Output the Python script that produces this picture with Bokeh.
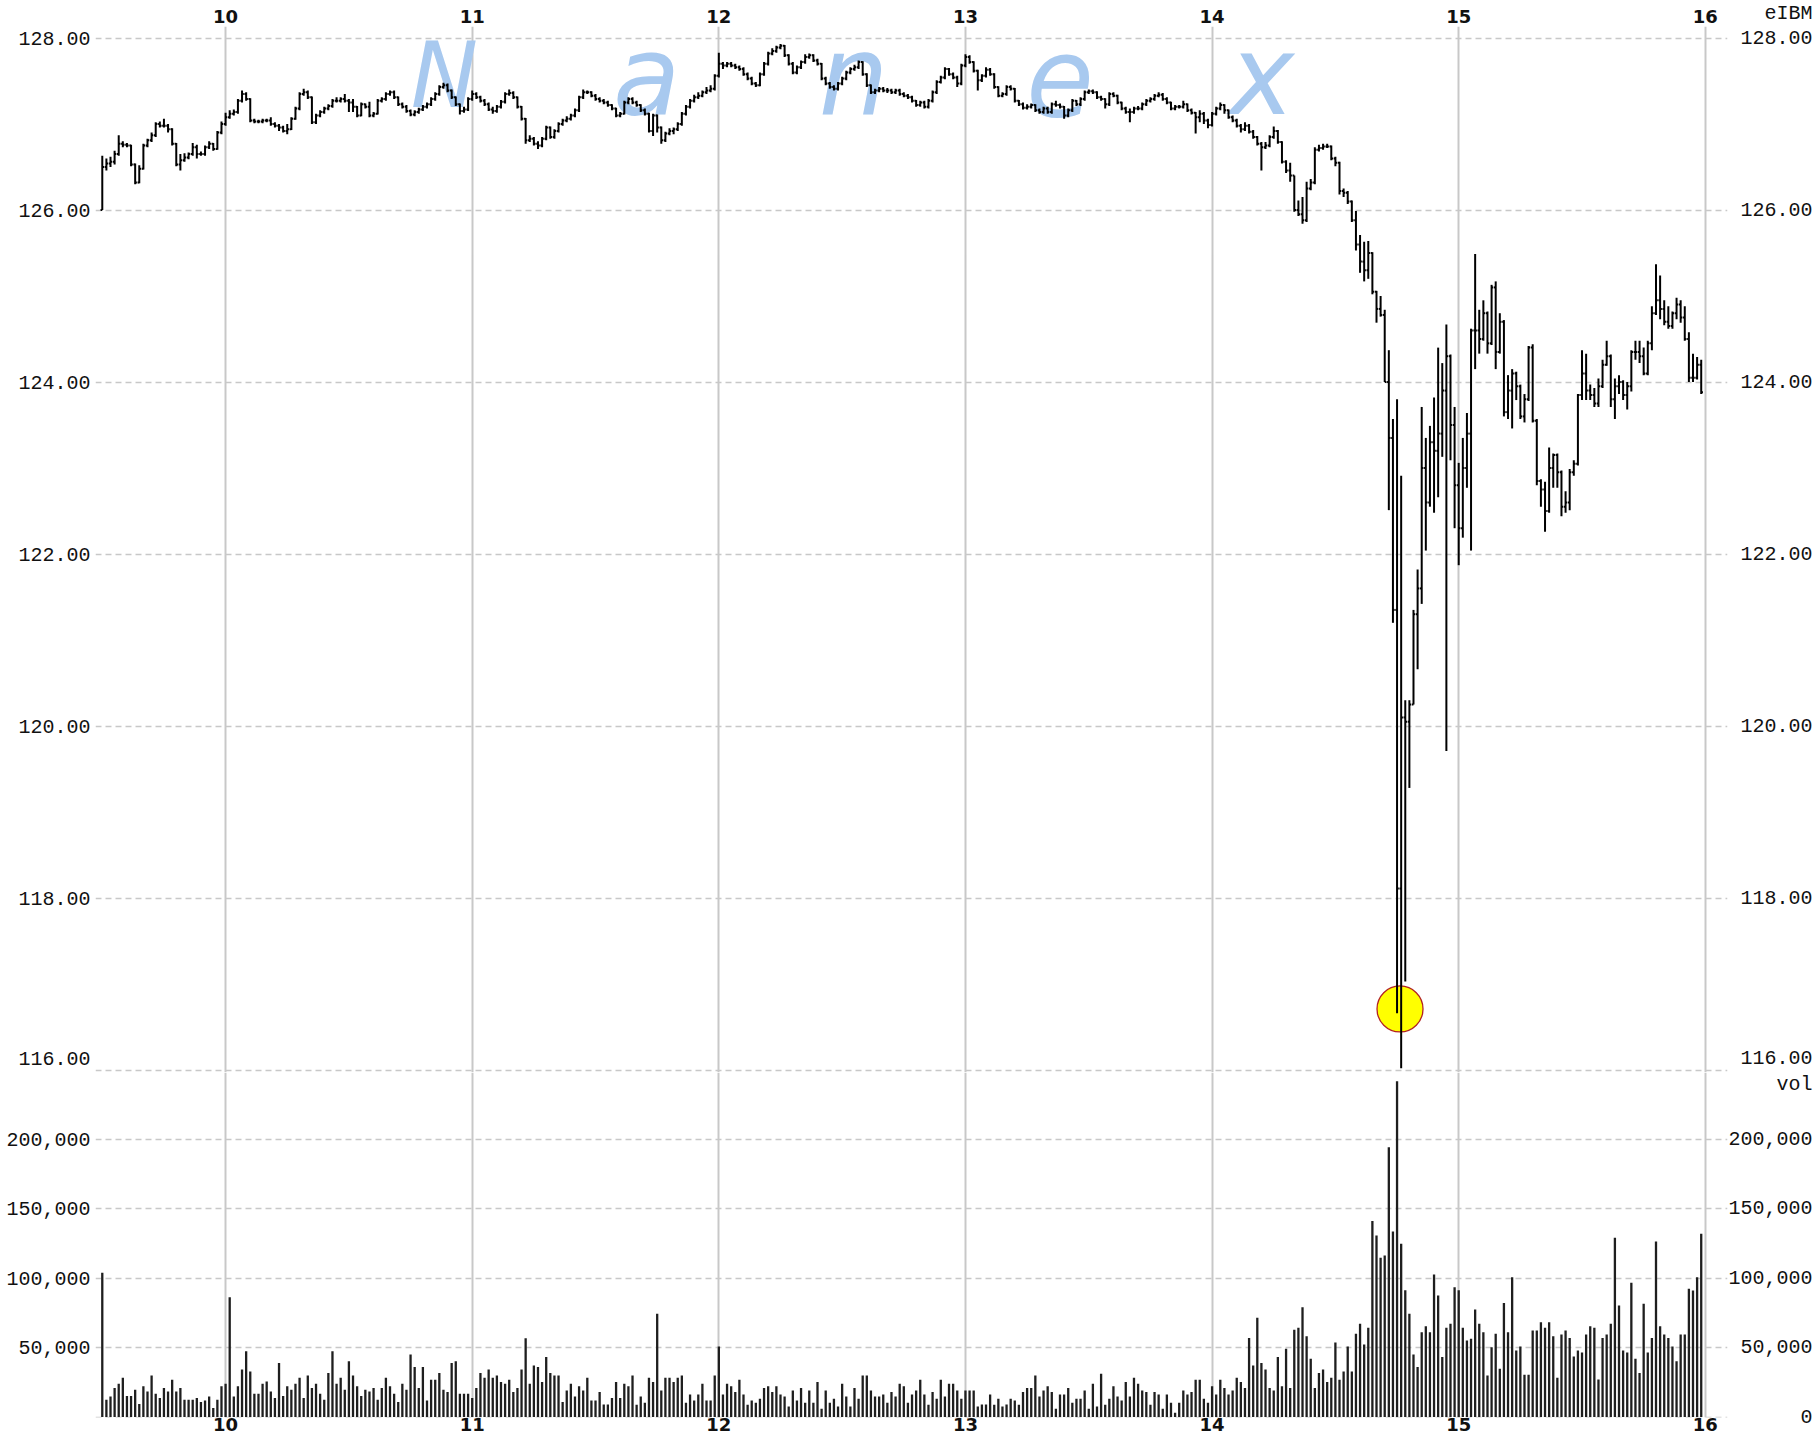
from bokeh.plotting import figure
from bokeh.layouts import column
from bokeh.models import (Range1d, FixedTicker, LinearAxis,
                          NumeralTickFormatter, PrintfTickFormatter, ColumnDataSource)
from bokeh.embed import file_html
from bokeh.resources import INLINE
from bokeh.core.properties import value

# ---------------- data (1-minute bars, 9:30 .. 15:59) ----------------
session_start = 9.5          # hours
first_open = 126.00
symbol = "eIBM"
vol_title = "vol"
hour_ticks = [10, 11, 12, 13, 14, 15, 16]
price_ticks = [116, 118, 120, 122, 124, 126, 128]
vol_ticks = [0, 50000, 100000, 150000, 200000]
marker_time = 14.762
marker_price = 116.71
watermark = ["N", "a", "n", "e", "x"]

close = [
    126.50, 126.54, 126.56, 126.65, 126.77, 126.76, 126.75, 126.53, 126.32, 126.48,
    126.75, 126.81, 126.87, 127.00, 126.98, 126.98, 126.94, 126.77, 126.53, 126.58,
    126.61, 126.65, 126.73, 126.65, 126.65, 126.73, 126.77, 126.71, 126.90, 127.00,
    127.08, 127.12, 127.14, 127.27, 127.35, 127.29, 127.04, 127.03, 127.03, 127.04,
    127.04, 127.00, 126.98, 126.96, 126.92, 126.94, 127.06, 127.18, 127.35, 127.37,
    127.31, 127.02, 127.10, 127.14, 127.18, 127.21, 127.27, 127.27, 127.29, 127.27,
    127.25, 127.20, 127.10, 127.23, 127.20, 127.10, 127.12, 127.27, 127.29, 127.35,
    127.37, 127.31, 127.23, 127.20, 127.15, 127.11, 127.14, 127.17, 127.20, 127.23,
    127.29, 127.35, 127.43, 127.45, 127.39, 127.31, 127.23, 127.15, 127.17, 127.29,
    127.35, 127.31, 127.27, 127.23, 127.17, 127.15, 127.20, 127.26, 127.35, 127.36,
    127.31, 127.20, 127.06, 126.81, 126.83, 126.77, 126.75, 126.83, 126.96, 126.85,
    126.92, 127.00, 127.04, 127.06, 127.10, 127.16, 127.31, 127.37, 127.37, 127.33,
    127.29, 127.27, 127.25, 127.22, 127.18, 127.10, 127.12, 127.25, 127.29, 127.25,
    127.22, 127.16, 127.12, 126.92, 127.10, 126.96, 126.81, 126.89, 126.92, 126.94,
    127.00, 127.12, 127.20, 127.27, 127.31, 127.33, 127.37, 127.39, 127.41, 127.56,
    127.70, 127.68, 127.70, 127.68, 127.66, 127.64, 127.58, 127.53, 127.47, 127.45,
    127.58, 127.70, 127.82, 127.85, 127.89, 127.91, 127.80, 127.70, 127.60, 127.66,
    127.72, 127.78, 127.80, 127.74, 127.70, 127.53, 127.47, 127.43, 127.41, 127.47,
    127.53, 127.60, 127.64, 127.66, 127.72, 127.58, 127.45, 127.37, 127.39, 127.41,
    127.39, 127.39, 127.37, 127.39, 127.35, 127.33, 127.31, 127.27, 127.22, 127.25,
    127.20, 127.27, 127.37, 127.49, 127.54, 127.64, 127.58, 127.54, 127.47, 127.68,
    127.78, 127.72, 127.62, 127.51, 127.56, 127.63, 127.58, 127.43, 127.33, 127.35,
    127.43, 127.41, 127.27, 127.23, 127.19, 127.20, 127.22, 127.16, 127.14, 127.18,
    127.14, 127.23, 127.22, 127.20, 127.10, 127.16, 127.27, 127.23, 127.29, 127.37,
    127.38, 127.37, 127.31, 127.29, 127.23, 127.35, 127.33, 127.25, 127.18, 127.14,
    127.14, 127.18, 127.18, 127.23, 127.27, 127.29, 127.33, 127.34, 127.29, 127.25,
    127.18, 127.20, 127.20, 127.23, 127.16, 127.13, 127.08, 127.12, 127.04, 126.99,
    127.12, 127.18, 127.22, 127.16, 127.08, 127.04, 126.98, 126.94, 126.98, 126.91,
    126.85, 126.77, 126.73, 126.75, 126.85, 126.92, 126.79, 126.56, 126.46, 126.40,
    126.00, 125.95, 125.88, 126.25, 126.32, 126.70, 126.72, 126.74, 126.74, 126.60,
    126.55, 126.22, 126.20, 126.10, 125.88, 125.60, 125.40, 125.30, 125.50, 125.05,
    124.85, 124.78, 124.00, 123.35, 121.35, 118.11, 120.10, 120.05, 120.25, 121.30,
    121.60, 123.00, 122.60, 123.30, 123.20, 123.40, 123.90, 124.30, 123.50, 122.80,
    122.30, 123.00, 123.40, 124.60, 124.60, 124.50, 124.80, 124.45, 125.10, 124.35,
    124.70, 123.65, 123.90, 124.10, 123.95, 123.60, 123.80, 124.40, 123.55, 122.85,
    122.75, 122.50, 123.00, 123.15, 122.95, 122.55, 122.60, 122.95, 123.05, 123.85,
    124.10, 123.90, 123.85, 123.75, 123.95, 124.20, 124.30, 123.80, 123.95, 124.00,
    123.85, 123.95, 124.35, 124.35, 124.30, 124.10, 124.45, 124.80, 124.95, 124.85,
    124.70, 124.65, 124.80, 124.90, 124.75, 124.50, 124.05, 124.05, 124.20, 123.88,
]

high = [
    126.63, 126.60, 126.62, 126.69, 126.87, 126.80, 126.78, 126.76, 126.54, 126.52,
    126.77, 126.83, 126.90, 127.02, 127.03, 127.06, 127.00, 126.95, 126.78, 126.65,
    126.66, 126.67, 126.78, 126.76, 126.68, 126.75, 126.80, 126.78, 126.92, 127.03,
    127.13, 127.16, 127.17, 127.29, 127.39, 127.37, 127.30, 127.06, 127.05, 127.06,
    127.06, 127.08, 127.02, 127.00, 126.98, 127.00, 127.08, 127.20, 127.37, 127.41,
    127.39, 127.32, 127.12, 127.16, 127.20, 127.23, 127.29, 127.31, 127.31, 127.35,
    127.29, 127.29, 127.21, 127.25, 127.24, 127.26, 127.14, 127.29, 127.31, 127.37,
    127.39, 127.39, 127.32, 127.25, 127.22, 127.17, 127.16, 127.19, 127.22, 127.25,
    127.31, 127.37, 127.45, 127.48, 127.47, 127.40, 127.32, 127.24, 127.20, 127.31,
    127.39, 127.37, 127.33, 127.29, 127.25, 127.20, 127.22, 127.28, 127.37, 127.40,
    127.38, 127.32, 127.21, 127.07, 126.87, 126.85, 126.80, 126.85, 126.98, 126.97,
    126.94, 127.02, 127.06, 127.09, 127.12, 127.18, 127.33, 127.40, 127.39, 127.38,
    127.35, 127.31, 127.29, 127.27, 127.23, 127.19, 127.14, 127.27, 127.31, 127.31,
    127.27, 127.23, 127.18, 127.13, 127.12, 127.11, 126.97, 126.91, 126.95, 126.96,
    127.02, 127.14, 127.22, 127.29, 127.34, 127.37, 127.39, 127.43, 127.45, 127.58,
    127.83, 127.72, 127.72, 127.72, 127.70, 127.68, 127.66, 127.60, 127.55, 127.49,
    127.60, 127.72, 127.84, 127.88, 127.91, 127.93, 127.92, 127.81, 127.72, 127.68,
    127.74, 127.81, 127.82, 127.81, 127.76, 127.71, 127.55, 127.49, 127.45, 127.49,
    127.55, 127.62, 127.66, 127.69, 127.74, 127.73, 127.59, 127.46, 127.41, 127.43,
    127.43, 127.42, 127.41, 127.41, 127.41, 127.37, 127.35, 127.33, 127.28, 127.27,
    127.27, 127.29, 127.39, 127.51, 127.56, 127.66, 127.65, 127.60, 127.56, 127.70,
    127.81, 127.80, 127.73, 127.63, 127.58, 127.66, 127.65, 127.59, 127.44, 127.37,
    127.45, 127.45, 127.42, 127.28, 127.25, 127.23, 127.24, 127.23, 127.18, 127.20,
    127.20, 127.25, 127.27, 127.24, 127.21, 127.18, 127.29, 127.28, 127.31, 127.39,
    127.40, 127.40, 127.38, 127.33, 127.30, 127.37, 127.37, 127.34, 127.26, 127.20,
    127.18, 127.20, 127.21, 127.25, 127.29, 127.31, 127.35, 127.37, 127.36, 127.31,
    127.26, 127.22, 127.22, 127.27, 127.24, 127.18, 127.14, 127.16, 127.14, 127.06,
    127.14, 127.20, 127.25, 127.23, 127.17, 127.10, 127.06, 127.00, 127.02, 127.00,
    126.93, 126.86, 126.79, 126.79, 126.87, 126.97, 126.93, 126.80, 126.58, 126.55,
    126.40, 126.11, 126.15, 126.33, 126.36, 126.73, 126.76, 126.77, 126.77, 126.75,
    126.62, 126.56, 126.25, 126.22, 126.11, 125.99, 125.71, 125.63, 125.64, 125.51,
    125.06, 125.00, 124.84, 124.37, 123.57, 123.80, 122.91, 120.30, 120.30, 121.35,
    121.82, 123.71, 123.35, 123.49, 123.82, 124.40, 124.22, 124.67, 124.32, 123.71,
    123.06, 123.35, 123.64, 124.62, 125.49, 124.84, 124.95, 124.82, 125.13, 125.17,
    124.80, 124.72, 124.08, 124.15, 124.12, 123.97, 123.86, 124.42, 124.44, 123.57,
    122.87, 122.84, 123.24, 123.17, 123.17, 122.97, 122.73, 122.99, 123.09, 123.86,
    124.37, 124.33, 123.97, 123.93, 124.04, 124.26, 124.48, 124.32, 124.04, 124.08,
    124.02, 124.00, 124.37, 124.48, 124.48, 124.40, 124.48, 124.88, 125.37, 125.24,
    124.95, 124.88, 124.82, 124.98, 124.95, 124.88, 124.58, 124.33, 124.29, 124.26,
]

low = [
    126.00, 126.46, 126.50, 126.53, 126.63, 126.73, 126.73, 126.51, 126.30, 126.31,
    126.47, 126.73, 126.79, 126.85, 126.96, 126.96, 126.90, 126.75, 126.51, 126.46,
    126.56, 126.59, 126.63, 126.60, 126.63, 126.63, 126.71, 126.69, 126.70, 126.88,
    126.98, 127.06, 127.10, 127.12, 127.25, 127.27, 127.02, 127.01, 127.01, 127.01,
    127.02, 126.98, 126.96, 126.92, 126.90, 126.88, 126.93, 127.05, 127.16, 127.33,
    127.29, 127.00, 127.00, 127.08, 127.12, 127.16, 127.19, 127.25, 127.25, 127.25,
    127.14, 127.14, 127.08, 127.09, 127.18, 127.08, 127.08, 127.11, 127.25, 127.27,
    127.33, 127.29, 127.21, 127.18, 127.13, 127.09, 127.09, 127.12, 127.15, 127.18,
    127.21, 127.27, 127.33, 127.41, 127.37, 127.29, 127.21, 127.11, 127.13, 127.15,
    127.27, 127.29, 127.25, 127.21, 127.15, 127.12, 127.13, 127.18, 127.24, 127.33,
    127.29, 127.18, 127.04, 126.77, 126.79, 126.75, 126.71, 126.73, 126.81, 126.83,
    126.83, 126.90, 126.98, 127.02, 127.04, 127.08, 127.14, 127.29, 127.35, 127.31,
    127.27, 127.25, 127.23, 127.20, 127.16, 127.08, 127.08, 127.11, 127.23, 127.23,
    127.20, 127.14, 127.10, 126.90, 126.86, 126.90, 126.77, 126.79, 126.87, 126.88,
    126.92, 126.98, 127.10, 127.18, 127.25, 127.29, 127.31, 127.35, 127.37, 127.39,
    127.54, 127.64, 127.66, 127.66, 127.64, 127.62, 127.56, 127.51, 127.45, 127.43,
    127.44, 127.56, 127.68, 127.80, 127.83, 127.87, 127.78, 127.68, 127.58, 127.58,
    127.64, 127.70, 127.76, 127.72, 127.68, 127.51, 127.45, 127.41, 127.39, 127.39,
    127.45, 127.51, 127.58, 127.62, 127.64, 127.56, 127.43, 127.35, 127.35, 127.37,
    127.37, 127.36, 127.35, 127.35, 127.33, 127.31, 127.29, 127.25, 127.20, 127.20,
    127.18, 127.18, 127.25, 127.35, 127.47, 127.52, 127.56, 127.52, 127.43, 127.45,
    127.66, 127.70, 127.60, 127.39, 127.49, 127.54, 127.56, 127.41, 127.31, 127.31,
    127.33, 127.39, 127.25, 127.21, 127.17, 127.17, 127.18, 127.14, 127.12, 127.12,
    127.12, 127.12, 127.20, 127.18, 127.06, 127.08, 127.14, 127.21, 127.21, 127.27,
    127.35, 127.35, 127.29, 127.27, 127.18, 127.21, 127.31, 127.23, 127.16, 127.12,
    127.02, 127.12, 127.16, 127.16, 127.21, 127.25, 127.27, 127.31, 127.27, 127.23,
    127.16, 127.16, 127.18, 127.18, 127.14, 127.11, 126.89, 127.02, 127.00, 126.95,
    126.97, 127.10, 127.16, 127.12, 127.06, 127.02, 126.96, 126.90, 126.92, 126.89,
    126.83, 126.75, 126.46, 126.71, 126.73, 126.83, 126.77, 126.54, 126.43, 126.33,
    125.98, 125.93, 125.84, 125.86, 126.23, 126.30, 126.68, 126.70, 126.72, 126.58,
    126.51, 126.18, 126.15, 126.07, 125.86, 125.53, 125.27, 125.17, 125.20, 125.02,
    124.69, 124.76, 124.00, 122.51, 121.20, 116.66, 116.02, 117.03, 119.28, 120.25,
    120.66, 121.42, 122.04, 122.55, 122.48, 122.66, 123.13, 119.71, 123.09, 122.30,
    121.87, 122.19, 122.77, 122.04, 124.15, 124.33, 124.48, 124.33, 124.43, 124.15,
    124.33, 123.60, 123.57, 123.46, 123.79, 123.57, 123.53, 123.78, 123.53, 122.80,
    122.55, 122.26, 122.48, 122.77, 122.77, 122.44, 122.48, 122.51, 122.91, 123.03,
    123.79, 123.79, 123.79, 123.71, 123.71, 123.93, 124.19, 123.71, 123.57, 123.86,
    123.79, 123.68, 123.89, 124.26, 124.22, 124.08, 124.08, 124.37, 124.78, 124.73,
    124.66, 124.62, 124.62, 124.73, 124.69, 124.48, 124.00, 124.00, 124.03, 123.86,
]

volume = [
    104000, 12500, 14900, 20900, 24000, 28300, 15100, 15100, 19700, 9400,
    22300, 18500, 30000, 16800, 13700, 20900, 18500, 26900, 18500, 20900,
    12500, 12500, 12500, 13700, 10800, 12000, 14900, 6500, 12500, 22300,
    24000, 86400, 14900, 22300, 34300, 47500, 32900, 16800, 16800, 24000,
    25700, 18500, 13700, 38900, 15100, 22300, 19700, 24000, 28300, 13700,
    30000, 20900, 24000, 16800, 12500, 31700, 47500, 24000, 28300, 19700,
    40300, 30000, 22300, 15100, 19700, 18500, 20900, 12500, 20900, 28300,
    22300, 16800, 10800, 24000, 19700, 45000, 36000, 20900, 36000, 12000,
    26900, 26900, 31700, 19700, 18000, 38900, 40300, 16800, 16800, 16800,
    13700, 20900, 31700, 28300, 34300, 28300, 30000, 25200, 24000, 26900,
    18000, 20900, 34300, 56800, 24000, 37200, 36000, 25200, 43200, 31700,
    30000, 30000, 10800, 19200, 24000, 14900, 22300, 19200, 28300, 12000,
    12000, 18000, 9100, 9100, 13700, 25200, 13700, 24000, 22300, 30000,
    8900, 14900, 10300, 28300, 25200, 74400, 19200, 28300, 28300, 25200,
    28300, 30000, 10300, 16300, 12000, 16300, 24000, 12000, 12000, 30000,
    50900, 16300, 24000, 22300, 18000, 26900, 16300, 8900, 12000, 10300,
    13200, 20900, 22300, 18000, 22300, 16300, 14900, 7700, 19200, 12000,
    20900, 10300, 19200, 10300, 25200, 6000, 19200, 10300, 13200, 7700,
    24000, 14900, 7700, 20900, 13200, 30000, 30000, 19200, 14900, 14900,
    16300, 10300, 18000, 14900, 24000, 22300, 10300, 16300, 19200, 26900,
    16300, 8900, 18000, 13200, 26900, 14900, 24000, 24000, 19200, 13200,
    19200, 19200, 19200, 7700, 9100, 9100, 16300, 8900, 13200, 7700,
    9100, 13200, 12000, 8900, 18000, 20900, 20900, 30000, 14900, 19200,
    22300, 18000, 6000, 16300, 16300, 20900, 10300, 13200, 13200, 19200,
    6000, 24000, 7700, 31200, 8900, 13200, 22300, 14900, 12000, 25200,
    14900, 28300, 24000, 19200, 18000, 8900, 18000, 16300, 6000, 16300,
    10300, 3100, 10300, 19200, 16300, 18000, 26900, 26900, 13200, 10300,
    22300, 16300, 26900, 20900, 16300, 19200, 28300, 25200, 20900, 56900,
    37200, 71500, 38900, 34300, 20900, 19200, 43200, 22300, 49200, 20900,
    62900, 64300, 79200, 58300, 42000, 20900, 31700, 34300, 25200, 28300,
    53800, 26900, 32900, 50900, 32900, 60000, 67200, 52300, 64300, 141200,
    130900, 114800, 116400, 194400, 133700, 242000, 124900, 91300, 74500, 45000,
    36000, 61200, 65500, 61200, 102800, 87600, 43200, 64300, 67200, 93600,
    91300, 64300, 55200, 56400, 77500, 67200, 61200, 30000, 50400, 60000,
    34800, 82100, 61200, 100800, 48000, 50900, 30500, 30500, 62400, 62400,
    68400, 64300, 68400, 58300, 28300, 59500, 62400, 56900, 43700, 48000,
    46600, 59500, 65500, 64300, 27100, 56900, 59500, 67200, 129200, 80400,
    48000, 46600, 96700, 42000, 31700, 81600, 46600, 56900, 126500, 65500,
    59500, 56900, 50900, 40300, 59500, 59500, 92400, 91200, 100800, 132000,
]

# ---------------- derived columns ----------------
n = len(close)
t = [session_start + i / 60.0 for i in range(n)]
opens = [first_open] + close[:-1]
TICK = 0.0070  # half-width of open/close ticks, in hours
src = ColumnDataSource(dict(
    t=t, tl=[x - TICK for x in t], tr=[x + TICK for x in t],
    o=opens, h=high, l=low, c=close, v=volume))

NB = "\u00a0"
MONO = "Liberation Mono"
LBL = "20px"
HOURF = "DejaVu Sans"
HOURS = "18px"
GRID = "#c8c8c8"
INK = "#111111"
W = 1815
LB, RB = 95, 85
XR = Range1d(9.4725, 16.0899)
PR = Range1d(115.971, 128.134)
VR = Range1d(-300, 248250)


def style_axis(ax, font, size, standoff, bold=False):
    ax.axis_line_color = None
    ax.major_tick_line_color = None
    ax.minor_tick_line_color = None
    ax.major_tick_out = 0
    ax.major_tick_in = 0
    ax.minor_tick_out = 0
    ax.minor_tick_in = 0
    ax.major_label_standoff = standoff
    ax.major_label_text_font = font
    ax.major_label_text_font_size = size
    ax.major_label_text_color = INK
    if bold:
        ax.major_label_text_font_style = "bold"


def pad(s):
    return s.rjust(7, NB)


# ---------------- price panel ----------------
pf = figure(width=W, height=1072, x_range=XR, y_range=PR,
            x_axis_location="above", output_backend="svg", toolbar_location=None,
            min_border_left=LB, min_border_right=RB, min_border_top=26,
            min_border_bottom=0, outline_line_color=None)

pf.xaxis.ticker = FixedTicker(ticks=hour_ticks)
for ax in pf.xaxis:
    style_axis(ax, HOURF, HOURS, 4, bold=True)

# the lowest price label sits just above its grid line (bottom edge of the panel)
pmin = min(price_ticks)
pmin_at = pmin + 0.13
label_ticks = [pmin_at] + [v for v in price_ticks if v != pmin]
ptop = 128.13  # just inside the top edge: carries the symbol name

left_over = {v: "%.2f" % v for v in label_ticks}
left_over[pmin_at] = "%.2f" % pmin
pf.yaxis.ticker = FixedTicker(ticks=label_ticks)
pf.yaxis.formatter = PrintfTickFormatter(format="%.2f")
pf.yaxis.major_label_overrides = left_over
for ax in pf.yaxis:
    style_axis(ax, MONO, LBL, 5)

right_over = {v: pad("%.2f" % v) for v in label_ticks}
right_over[pmin_at] = pad("%.2f" % pmin)
right_over[ptop] = pad(symbol) + "\n" + NB
rax = LinearAxis(ticker=FixedTicker(ticks=label_ticks + [ptop]),
                 major_label_overrides=right_over)
style_axis(rax, MONO, LBL, 1)
pf.add_layout(rax, "right")

pf.xgrid.ticker = FixedTicker(ticks=hour_ticks)
pf.xgrid.grid_line_color = GRID
pf.xgrid.grid_line_width = 2
pf.ygrid.ticker = FixedTicker(ticks=price_ticks)
pf.ygrid.grid_line_color = GRID
pf.ygrid.grid_line_width = 1.5
pf.ygrid.grid_line_dash = "6 4"

# watermark
wm_x = [10.887, 11.708, 12.546, 13.384, 14.202]
pf.text(x=wm_x, y=[127.56] * len(watermark), text=watermark,
        text_font=value("DejaVu Sans"), text_font_style="italic",
        text_font_size=["90px", "110px", "110px", "110px", "110px"],
        text_color="#a8c9ef", text_align="center", text_baseline="alphabetic")

# marker
pf.scatter(x=[marker_time], y=[marker_price], size=46, marker="circle",
           fill_color="#ffff00", line_color="#b22222", line_width=1.3)

# OHLC bars
pf.segment(x0="t", y0="l", x1="t", y1="h", source=src, line_color="#000000", line_width=2)
pf.segment(x0="tl", y0="o", x1="t", y1="o", source=src, line_color="#000000", line_width=2)
pf.segment(x0="t", y0="c", x1="tr", y1="c", source=src, line_color="#000000", line_width=2)

# ---------------- volume panel ----------------
vf = figure(width=W, height=366, x_range=XR, y_range=VR,
            output_backend="svg", toolbar_location=None,
            min_border_left=LB, min_border_right=RB, min_border_top=0,
            min_border_bottom=21, outline_line_color=None)

vf.vbar(x="t", top="v", bottom=0, width=0.56 / 60, source=src,
        fill_color="#1e1e1e", line_color=None)

vf.xaxis.ticker = FixedTicker(ticks=hour_ticks)
for ax in vf.xaxis:
    style_axis(ax, HOURF, HOURS, 0, bold=True)

vf.yaxis.ticker = FixedTicker(ticks=[v for v in vol_ticks if v > 0])
vf.yaxis.formatter = NumeralTickFormatter(format="0,0")
for ax in vf.yaxis:
    style_axis(ax, MONO, LBL, 5)

vtitle_at = 243000  # panel name just under the top edge
vol_over = {v: pad(format(v, ",")) for v in vol_ticks}
vol_over[vtitle_at] = pad(vol_title)
vrax = LinearAxis(ticker=FixedTicker(ticks=vol_ticks + [vtitle_at]),
                  major_label_overrides=vol_over)
style_axis(vrax, MONO, LBL, 1)
vf.add_layout(vrax, "right")

vf.xgrid.ticker = FixedTicker(ticks=hour_ticks)
vf.xgrid.grid_line_color = GRID
vf.xgrid.grid_line_width = 2
vf.ygrid.ticker = FixedTicker(ticks=vol_ticks)
vf.ygrid.grid_line_color = GRID
vf.ygrid.grid_line_width = 1.5
vf.ygrid.grid_line_dash = "6 4"

layout = column(pf, vf, spacing=0)
open("out.html", "w").write(file_html(layout, INLINE))
